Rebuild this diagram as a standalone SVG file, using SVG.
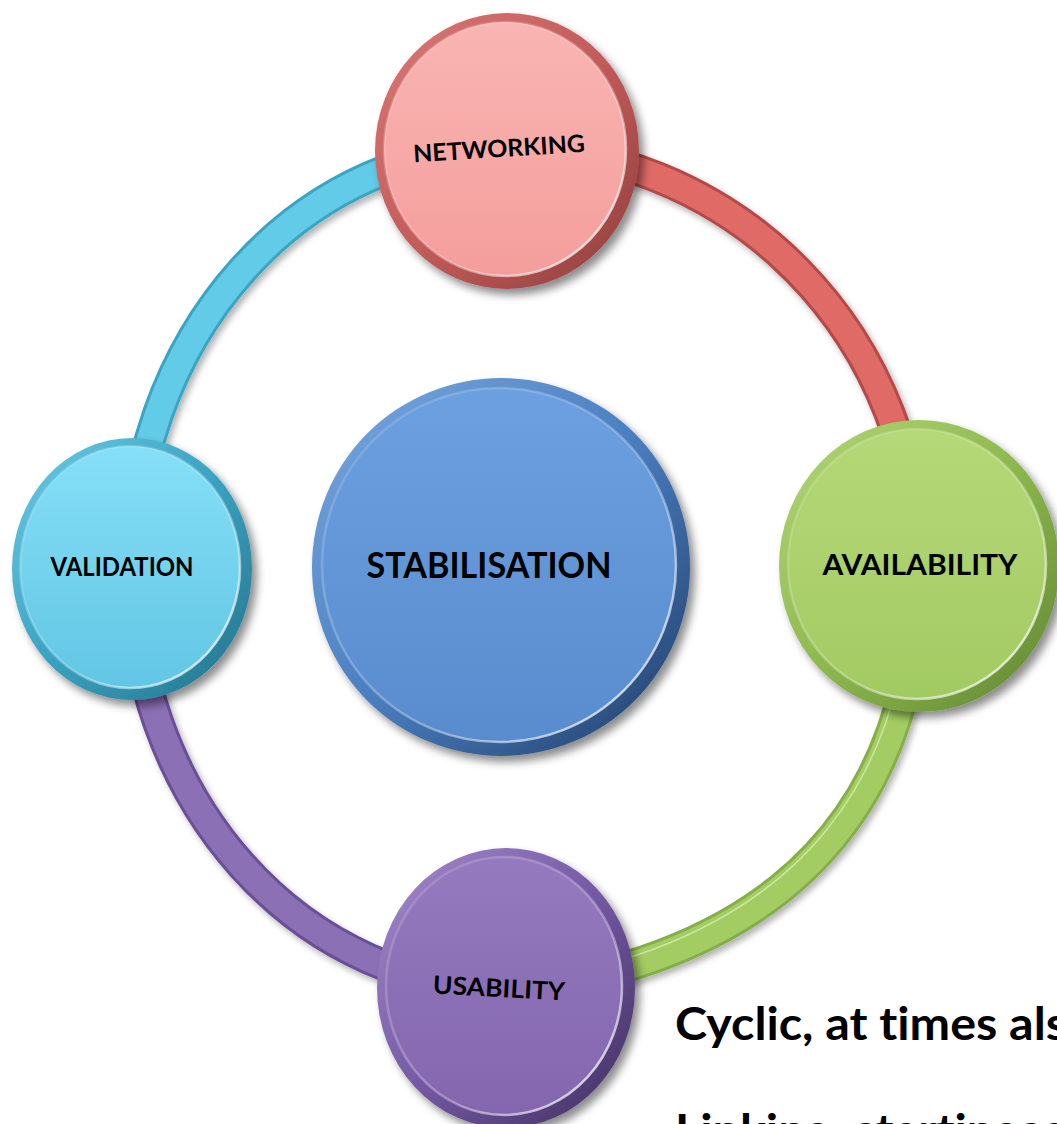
<svg xmlns="http://www.w3.org/2000/svg" width="1057" height="1124" viewBox="0 0 1057 1124">
<defs>
  <filter id="sh" x="-20%" y="-20%" width="140%" height="140%">
    <feDropShadow dx="5" dy="6" stdDeviation="4" flood-color="#000" flood-opacity="0.45"/>
  </filter>
  <filter id="bsh" x="-10%" y="-10%" width="120%" height="120%">
    <feDropShadow dx="3" dy="4" stdDeviation="3" flood-color="#000" flood-opacity="0.3"/>
  </filter>
  <linearGradient id="hl" x1="0" y1="0" x2="1" y2="1">
    <stop offset="0" stop-color="#fff" stop-opacity="0.1"/>
    <stop offset="0.6" stop-color="#fff" stop-opacity="0.3"/>
    <stop offset="1" stop-color="#fff" stop-opacity="0.95"/>
  </linearGradient>
  <linearGradient id="gNet" x1="0" y1="0" x2="0" y2="1"><stop offset="0" stop-color="#F9B5B3"/><stop offset="1" stop-color="#F49E9C"/></linearGradient>
  <linearGradient id="rNet" x1="0" y1="0" x2="1" y2="1"><stop offset="0" stop-color="#D87876"/><stop offset="0.5" stop-color="#C35C5A"/><stop offset="1" stop-color="#8E3E3C"/></linearGradient>
  <linearGradient id="gVal" x1="0" y1="0" x2="0" y2="1"><stop offset="0" stop-color="#86DFF7"/><stop offset="1" stop-color="#62C6E4"/></linearGradient>
  <linearGradient id="rVal" x1="0" y1="0" x2="1" y2="1"><stop offset="0" stop-color="#6CCBE4"/><stop offset="0.5" stop-color="#3AA2C2"/><stop offset="1" stop-color="#24728A"/></linearGradient>
  <linearGradient id="gAva" x1="0" y1="0" x2="0" y2="1"><stop offset="0" stop-color="#B5D878"/><stop offset="1" stop-color="#A2CA62"/></linearGradient>
  <linearGradient id="rAva" x1="0" y1="0" x2="1" y2="1"><stop offset="0" stop-color="#B4D77A"/><stop offset="0.5" stop-color="#8DB84E"/><stop offset="1" stop-color="#5F8430"/></linearGradient>
  <linearGradient id="gUsa" x1="0" y1="0" x2="0" y2="1"><stop offset="0" stop-color="#947ABE"/><stop offset="1" stop-color="#8466AF"/></linearGradient>
  <linearGradient id="rUsa" x1="0" y1="0" x2="1" y2="1"><stop offset="0" stop-color="#A58BCC"/><stop offset="0.5" stop-color="#7559A5"/><stop offset="1" stop-color="#3E2D5C"/></linearGradient>
  <linearGradient id="gSta" x1="0" y1="0" x2="0" y2="1"><stop offset="0" stop-color="#6CA0E0"/><stop offset="1" stop-color="#588CCE"/></linearGradient>
  <linearGradient id="rSta" x1="0" y1="0" x2="1" y2="1"><stop offset="0" stop-color="#7AAAE2"/><stop offset="0.5" stop-color="#4A7EC0"/><stop offset="1" stop-color="#1F3C66"/></linearGradient>
  <style>
    .lbl { font-family: "Lato", "Open Sans", "Liberation Sans", sans-serif; font-weight: bold; fill: #000; font-variant-ligatures: none; }
    .big { font-family: "Lato", "Open Sans", "Liberation Sans", sans-serif; font-weight: bold; fill: #000; font-size: 46px; font-variant-ligatures: none; }
    .band { fill: none; }
    .hlr { fill: none; stroke: url(#hl); stroke-width: 2.5; }
  </style>
</defs>
<rect width="1057" height="1124" fill="#fff"/>

<g id="connectors" filter="url(#bsh)">
  <g id="band-validation-networking">
    <path class="band" d="M 132 568 A 374 420 0 0 1 506 148" stroke="#3AA4C3" stroke-width="32"/>
    <path class="band" d="M 132 568 A 374 420 0 0 1 506 148" stroke="#62CBE8" stroke-width="26"/>
  </g>
  <g id="band-networking-availability">
    <path class="band" d="M 506 148 A 412 418 0 0 1 918 566" stroke="#B44A47" stroke-width="32"/>
    <path class="band" d="M 506 148 A 412 418 0 0 1 918 566" stroke="#E06A66" stroke-width="26"/>
  </g>
  <g id="band-availability-usability">
    <path class="band" d="M 918 566 C 918 760 830 950 506 992" stroke="#84AE48" stroke-width="32"/>
    <path class="band" d="M 918 566 C 918 760 830 950 506 992" stroke="#A3CD62" stroke-width="26"/>
    <path class="band" d="M 918 566 C 918 760 830 950 506 992" stroke="#D8EDB0" stroke-width="1.5" transform="translate(-7,-6)" opacity="0.8"/>
  </g>
  <g id="band-usability-validation">
    <path class="band" d="M 506 988 A 374 420 0 0 1 132 568" stroke="#6A4F98" stroke-width="32"/>
    <path class="band" d="M 506 988 A 374 420 0 0 1 132 568" stroke="#8C6FB6" stroke-width="26"/>
  </g>
</g>

<g id="node-networking">
  <ellipse cx="507" cy="151" rx="132" ry="138" fill="url(#rNet)" filter="url(#sh)"/>
  <ellipse cx="505" cy="149" rx="121" ry="127" fill="url(#gNet)"/>
  <ellipse cx="505" cy="149" rx="121" ry="127" class="hlr"/>
  <text class="lbl" x="499" y="157" font-size="24" text-anchor="middle" textLength="172" lengthAdjust="spacingAndGlyphs" transform="rotate(-3.5 499 148)">NETWORKING</text>
</g>

<g id="node-validation">
  <ellipse cx="132" cy="569" rx="120" ry="131" fill="url(#rVal)" filter="url(#sh)"/>
  <ellipse cx="130" cy="567" rx="110" ry="121" fill="url(#gVal)"/>
  <ellipse cx="130" cy="567" rx="110" ry="121" class="hlr"/>
  <text class="lbl" x="122" y="576" font-size="26" text-anchor="middle" textLength="143" lengthAdjust="spacingAndGlyphs">VALIDATION</text>
</g>

<g id="node-availability">
  <ellipse cx="919" cy="566" rx="140" ry="146" fill="url(#rAva)" filter="url(#sh)"/>
  <ellipse cx="917" cy="564" rx="129" ry="135" fill="url(#gAva)"/>
  <ellipse cx="917" cy="564" rx="129" ry="135" class="hlr"/>
  <text class="lbl" x="920" y="575" font-size="28" text-anchor="middle" textLength="195" lengthAdjust="spacingAndGlyphs">AVAILABILITY</text>
</g>

<g id="node-usability">
  <ellipse cx="506" cy="988" rx="129" ry="140" fill="url(#rUsa)" filter="url(#sh)"/>
  <ellipse cx="504" cy="986" rx="118" ry="129" fill="url(#gUsa)"/>
  <ellipse cx="504" cy="986" rx="118" ry="129" class="hlr"/>
  <text class="lbl" x="499" y="997" font-size="25" text-anchor="middle" textLength="132" lengthAdjust="spacingAndGlyphs" transform="rotate(3 499 988)">USABILITY</text>
</g>

<g id="node-stabilisation">
  <ellipse cx="501" cy="567" rx="189" ry="189" fill="url(#rSta)" filter="url(#sh)"/>
  <ellipse cx="499" cy="565" rx="177" ry="177" fill="url(#gSta)"/>
  <ellipse cx="499" cy="565" rx="177" ry="177" class="hlr"/>
  <text class="lbl" x="489" y="578" font-size="36" text-anchor="middle" textLength="245" lengthAdjust="spacingAndGlyphs">STABILISATION</text>
</g>

<g id="caption">
  <text class="big" x="675" y="1040" textLength="392" lengthAdjust="spacingAndGlyphs">Cyclic, at times als</text>
  <text class="big" x="675" y="1147" textLength="392" lengthAdjust="spacingAndGlyphs">Linking, startingse</text>
</g>
</svg>
